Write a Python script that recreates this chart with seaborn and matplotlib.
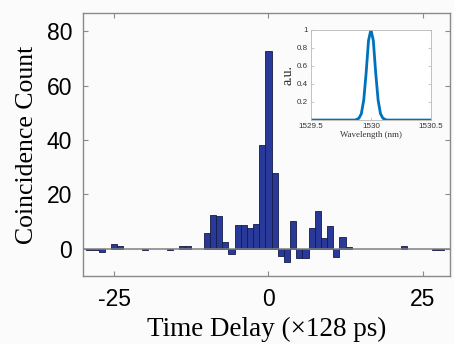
import numpy as np
import matplotlib
matplotlib.use("Agg")
import matplotlib.pyplot as plt
import seaborn as sns

# histogram bins (time delay in units of 128 ps) and background-subtracted counts
DELAY = [-29, -28, -27, -25, -24, -20, -16, -14, -13,
         -10, -9, -8, -7, -6, -5, -4, -3, -2, -1, 0, 1, 2, 3, 4,
         5, 6, 7, 8, 9, 10, 11, 12, 13, 22, 27, 28]
COUNTS = [-0.3, -0.3, -1.1, 1.6, 0.9, -0.3, -0.3, 0.9, 0.9,
          5.8, 12.5, 12.0, 2.5, -2.0, 8.6, 8.8, 7.6, 9.2, 38.0, 72.7, 27.7, -2.5, -5.0, 10.3,
          -3.6, -3.6, 7.8, 13.7, 3.9, 8.4, -2.9, 4.4, 0.7, 1.0, -0.4, -0.4]

# inset spectrum
WAVELENGTH = [1529.5, 1529.87, 1529.9, 1529.92, 1529.94, 1529.96, 1529.98, 1530.0,
              1530.02, 1530.04, 1530.06, 1530.08, 1530.1, 1530.13, 1530.5]
AMPLITUDE = [0.0, 0.0, 0.02, 0.07, 0.22, 0.52, 0.88, 1.0,
             0.88, 0.52, 0.22, 0.07, 0.02, 0.0, 0.0]

X_TICKS = [-25, 0, 25]
Y_TICKS = [0, 20, 40, 60, 80]
INSET_X_TICKS = [1529.5, 1530, 1530.5]
INSET_Y_TICKS = [0.2, 0.4, 0.6, 0.8, 1]

BAR_COLOR = "#28399a"
EDGE_GREY = "#8a8a8a"

plt.rcParams["font.family"] = ["Liberation Sans", "DejaVu Sans"]

fig = plt.figure(figsize=(4.54, 3.44), dpi=100, facecolor="#fbfbfb")
ax = fig.add_axes([0.1835, 0.198, 0.8075, 0.764])
ax.set_facecolor("#fbfbfb")

sns.barplot(x=DELAY, y=COUNTS, native_scale=True, orient="x", width=1,
            color=BAR_COLOR, saturation=1, edgecolor="#151a45", linewidth=0.6,
            ax=ax, zorder=2)
ax.axhline(0, color="#808080", lw=1.1, zorder=3)

ax.set_xlim(-30, 29.4)
ax.set_ylim(-10, 86.7)
ax.set_xticks(X_TICKS)
ax.set_xticklabels([str(v) for v in X_TICKS])
ax.set_yticks(Y_TICKS)
ax.tick_params(direction="in", length=3.5, width=0.8, color=EDGE_GREY,
               top=True, right=True, labelsize=16.5, pad=8)
ax.tick_params(axis="x", pad=9)
for s in ax.spines.values():
    s.set_color(EDGE_GREY)
    s.set_linewidth(1.0)

ax.set_xlabel("Time Delay (\u00d7128 ps)", family=["Liberation Serif", "DejaVu Serif"],
              fontsize=19.5, labelpad=4)
ax.set_ylabel("Coincidence Count", family=["Liberation Serif", "DejaVu Serif"],
              fontsize=18.5, labelpad=6)

# inset with the pump spectrum
axin = fig.add_axes([0.685, 0.651, 0.264, 0.263])
axin.set_facecolor("white")
sns.lineplot(x=WAVELENGTH, y=AMPLITUDE, ax=axin, color="#0072BD", linewidth=2)
axin.set_xlim(1529.5, 1530.5)
axin.set_ylim(0, 1)
axin.set_xticks(INSET_X_TICKS)
axin.set_xticklabels(["1529.5", "1530", "1530.5"])
axin.set_yticks(INSET_Y_TICKS)
axin.set_yticklabels(["0.2", "0.4", "0.6", "0.8", "1"])
axin.tick_params(direction="in", length=2, width=0.5, color="#b0b0b0",
                 top=True, right=True, labelsize=5.8, labelcolor="#333333", pad=2)
for s in axin.spines.values():
    s.set_color("#b8b8b8")
    s.set_linewidth(0.6)
axin.set_xlabel("Wavelength (nm)", family=["Liberation Serif", "DejaVu Serif"],
                fontsize=6.4, color="#333333", labelpad=1)
axin.set_ylabel("a.u.", family=["Liberation Serif", "DejaVu Serif"],
                fontsize=10, color="#222222", labelpad=2)

fig.savefig("out.png", dpi=100, facecolor=fig.get_facecolor())
